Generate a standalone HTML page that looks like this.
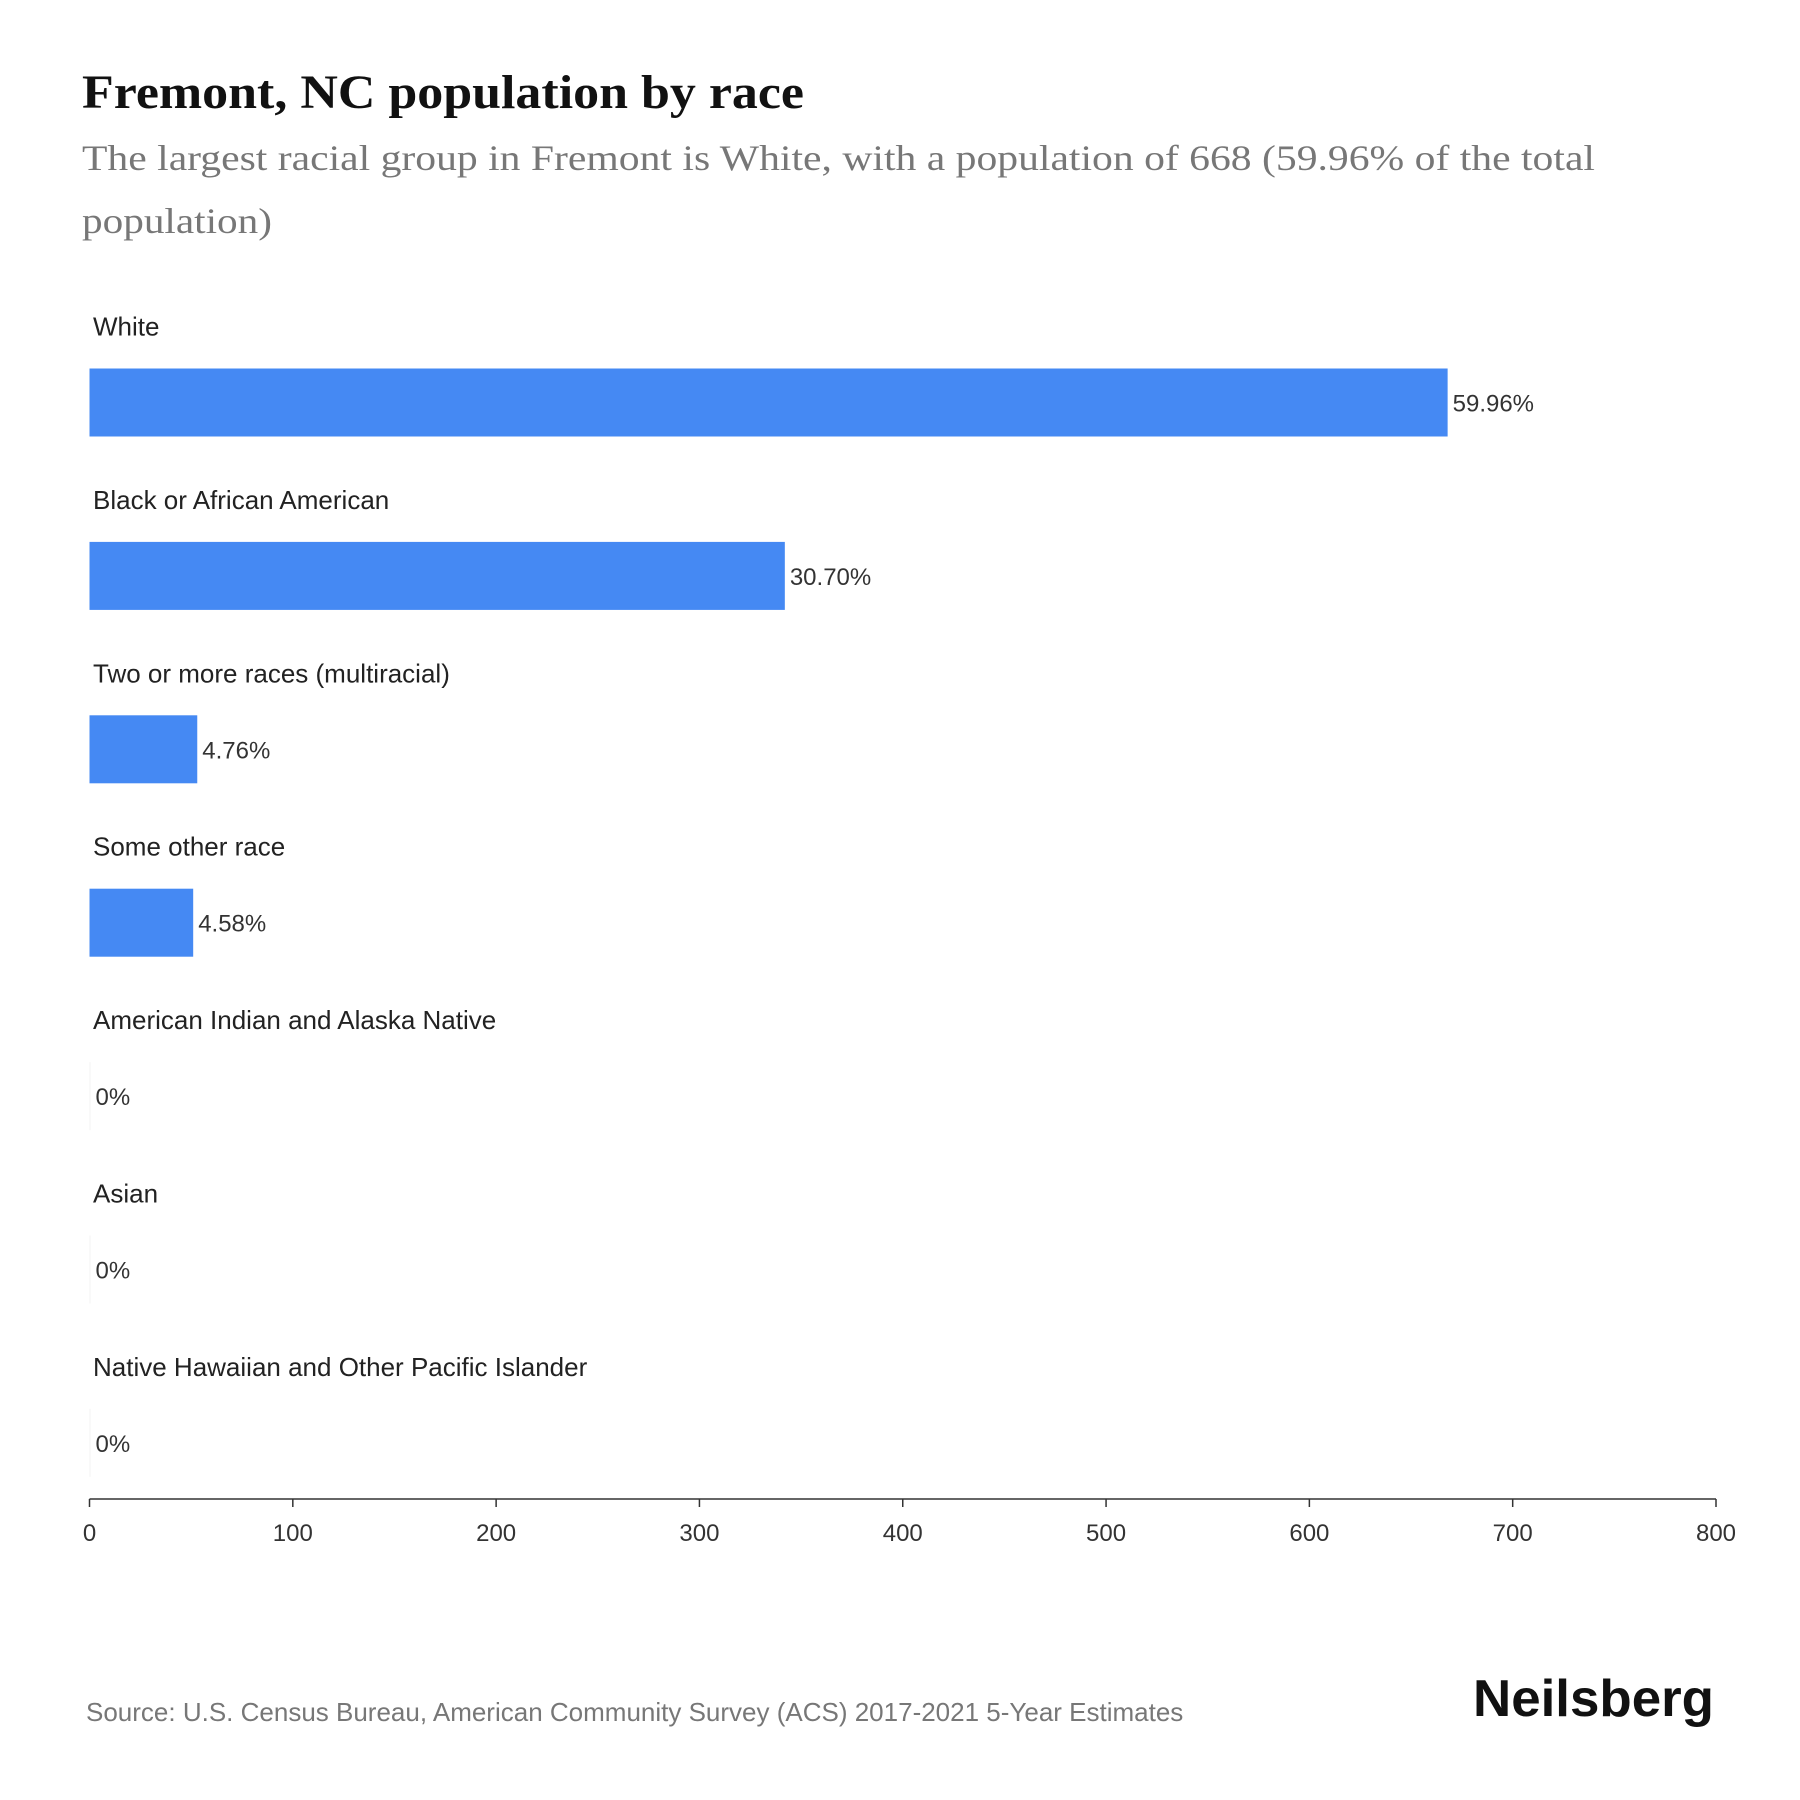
<!DOCTYPE html>
<html><head><meta charset="utf-8"><style>
body{margin:0;background:#fff;width:1800px;height:1800px;overflow:hidden}
svg{display:block}
.lbl{font-family:"Liberation Sans",sans-serif;font-size:26px;fill:#222}
.val{font-family:"Liberation Sans",sans-serif;font-size:24px;fill:#333}
.tick{font-family:"Liberation Sans",sans-serif;font-size:24px;fill:#333}
</style></head><body>
<svg id="chart" width="1800" height="1800" viewBox="0 0 1800 1800">
<text x="82" y="108" textLength="722" lengthAdjust="spacingAndGlyphs" font-family="Liberation Serif,serif" font-weight="bold" font-size="48" fill="#111">Fremont, NC population by race</text>
<text x="82" y="170" textLength="1513" lengthAdjust="spacingAndGlyphs" font-family="Liberation Serif,serif" font-size="36" fill="#777">The largest racial group in Fremont is White, with a population of 668 (59.96% of the total</text>
<text x="82" y="233" textLength="190" lengthAdjust="spacingAndGlyphs" font-family="Liberation Serif,serif" font-size="36" fill="#777">population)</text>
<g id="bars"></g>
<g id="axis"></g>
<text x="86" y="1721" font-family="Liberation Sans,sans-serif" font-size="26" fill="#777">Source: U.S. Census Bureau, American Community Survey (ACS) 2017-2021 5-Year Estimates</text>
<text x="1473" y="1716" textLength="241" lengthAdjust="spacingAndGlyphs" font-family="Liberation Sans,sans-serif" font-weight="bold" font-size="52" fill="#111">Neilsberg</text>
</svg>
<script>
const categories=["White","Black or African American","Two or more races (multiracial)","Some other race","American Indian and Alaska Native","Asian","Native Hawaiian and Other Pacific Islander"];
const values=[668,342,53,51,0,0,0];
const percentLabels=["59.96%","30.70%","4.76%","4.58%","0%","0%","0%"];
const ticks=[0,100,200,300,400,500,600,700,800];
const NS="http://www.w3.org/2000/svg";
const x0=89.5,x1=1716,xmax=800;
const xs=v=>x0+(x1-x0)*v/xmax;
const rowTop=r=>368.5+r*173.4;
const bars=document.getElementById('bars');
function mk(tag,attrs,parent){const e=document.createElementNS(NS,tag);for(const k in attrs)e.setAttribute(k,attrs[k]);parent.appendChild(e);return e;}
categories.forEach((c,i)=>{
 const y=rowTop(i);
 const t=mk('text',{x:93,y:y-33,class:'lbl'},bars);t.textContent=c;
 
 
 const w=Math.max(xs(values[i])-x0,1);
 const r=mk('rect',{x:x0,y:y,width:w,height:68,fill:values[i]>0?'#4589f3':'#f3f3f3'},bars);
 
 
 const v=mk('text',{x:x0+w+5,y:y+43,class:'val'},bars);v.textContent=percentLabels[i];
 
 
});
const ax=document.getElementById('axis');
const line=mk('line',{x1:x0,x2:x1,y1:1499,y2:1499,stroke:'#333','stroke-width':1.5},ax);


ticks.forEach(t=>{
 const tk=mk('line',{x1:xs(t),x2:xs(t),y1:1499,y2:1507,stroke:'#333','stroke-width':1.5},ax);
 
 
 const tl=mk('text',{x:xs(t),y:1541,'text-anchor':'middle',class:'tick'},ax);tl.textContent=t;
 
 
});
</script>
</body></html>
